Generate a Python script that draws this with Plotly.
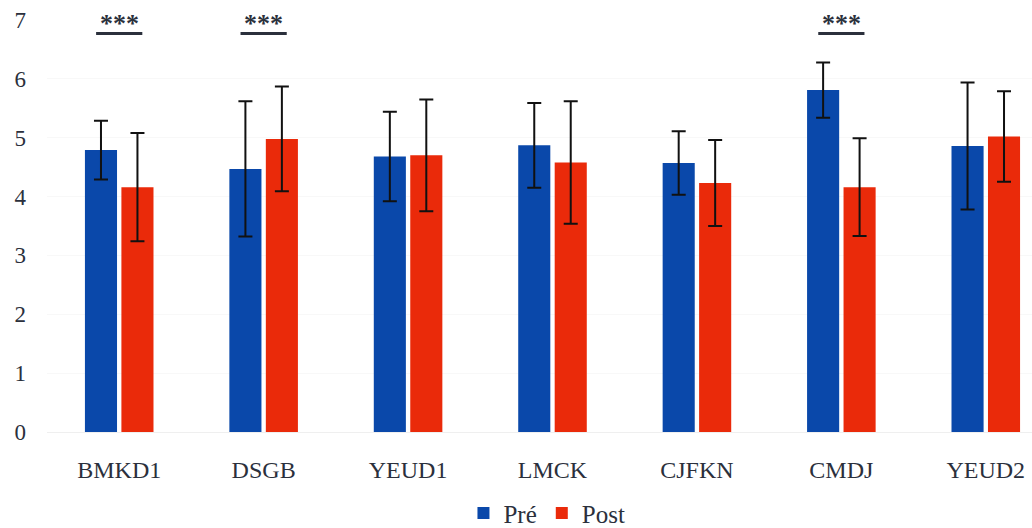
import plotly.graph_objects as go

categories = ["BMKD1", "DSGB", "YEUD1", "LMCK", "CJFKN", "CMDJ", "YEUD2"]
pre_mean = [4.79, 4.47, 4.68, 4.87, 4.57, 5.81, 4.86]
pre_sd = [0.50, 1.15, 0.76, 0.72, 0.54, 0.47, 1.08]
post_mean = [4.16, 4.98, 4.70, 4.58, 4.23, 4.16, 5.02]
post_sd = [0.92, 0.89, 0.95, 1.04, 0.73, 0.83, 0.77]
significant = ["BMKD1", "DSGB", "CMDJ"]
sig_label = "***"
y_ticks = [0, 1, 2, 3, 4, 5, 6, 7]

BLUE = "#0a48aa"
RED = "#ea2a0a"
TEXT = "#2b303c"
FONT = "Liberation Serif"

fig = go.Figure()
fig.add_trace(go.Bar(
    name="Pré", x=categories, y=pre_mean, marker_color=BLUE, marker_line_width=0,
    error_y=dict(type="data", array=pre_sd, color="#111111", thickness=2, width=7),
))
fig.add_trace(go.Bar(
    name="Post", x=categories, y=post_mean, marker_color=RED, marker_line_width=0,
    error_y=dict(type="data", array=post_sd, color="#111111", thickness=2, width=7),
))

for cat in significant:
    i = categories.index(cat)
    fig.add_shape(type="line", xref="x", yref="y", x0=i - 0.16, x1=i + 0.16,
                  y0=6.77, y1=6.77, line=dict(color="#2b303c", width=3))
    fig.add_annotation(x=i, y=6.77, xref="x", yref="y", text="<b>" + sig_label + "</b>",
                       showarrow=False, yanchor="bottom", yshift=-6,
                       font=dict(family=FONT, size=26, color="#2b303c"))

fig.update_layout(
    width=1032, height=528,
    margin=dict(l=47, r=0, t=20, b=96, autoexpand=False),
    paper_bgcolor="white", plot_bgcolor="white",
    barmode="group", bargap=0.495, bargroupgap=0.12,
    font=dict(family=FONT, color=TEXT, size=23),
    legend=dict(orientation="h", x=0.53, xanchor="center", xref="container",
                y=0.028, yanchor="middle", yref="container",
                font=dict(family=FONT, size=25, color=TEXT), itemwidth=30,
                traceorder="normal"),
    showlegend=True,
)
fig.update_xaxes(type="category", range=[-0.5, 6.32], showgrid=False,
                 showline=True, linecolor="#efefef", linewidth=1, ticks="",
                 tickfont=dict(family=FONT, size=24, color=TEXT),
                 ticklabelstandoff=16)
fig.update_yaxes(range=[0, 7], tickvals=y_ticks, showgrid=True, gridcolor="#f8f8f8",
                 zeroline=False, showline=False, ticks="",
                 tickfont=dict(family=FONT, size=23, color=TEXT),
                 ticklabelstandoff=20)

fig.write_html("out.html")
